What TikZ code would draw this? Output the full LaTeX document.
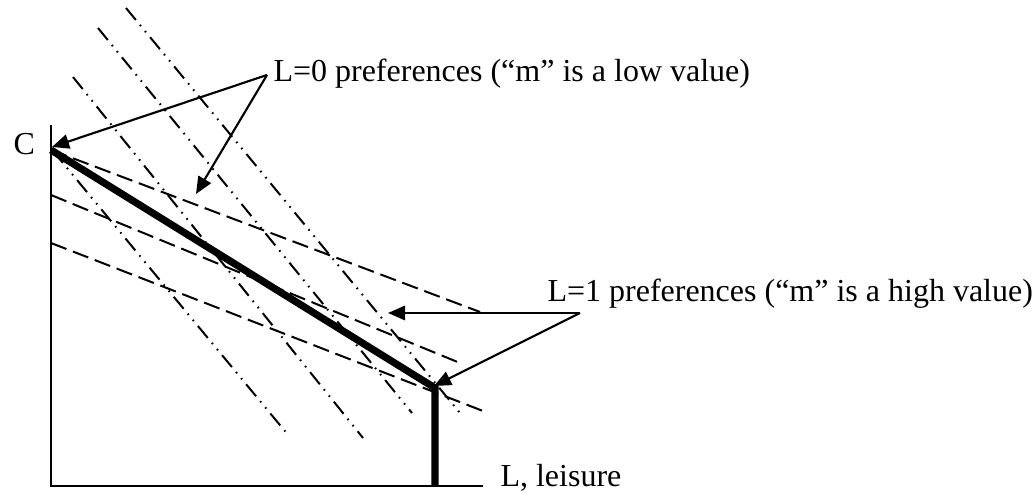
\documentclass[tikz,border=0pt]{standalone}
\usepackage{fontspec}
\setmainfont{Liberation Serif}
\usetikzlibrary{arrows.meta}
\begin{document}
\begin{tikzpicture}[x=0.375pt,y=-0.375pt,
  axis/.style={line width=0.8pt},
  budget/.style={line width=2.7pt, line join=miter},
  lzero/.style={line width=0.75pt, dash pattern=on 5.8pt off 2.4pt on 0.6pt off 2.4pt on 0.6pt off 2.4pt},
  lone/.style={line width=0.75pt, dash pattern=on 6.2pt off 2.6pt},
  callout/.style={line width=0.8pt, -{Triangle[length=6.4pt,width=5.4pt]}},
  lbl/.style={inner sep=0pt, anchor=base west, font=\fontsize{12}{14}\selectfont}]
\useasboundingbox (0,0) rectangle (1036,492);

% axes
\coordinate (ytop) at (51,125);
\coordinate (orig) at (51,486);
\coordinate (xend) at (483,486);
\draw[axis] (ytop) -- (orig) -- (xend);

% labels
\node[lbl] (Clab) at (13,155) {C};
\node[lbl] (Llab) at (500,486) {L, leisure};
\node[lbl] (l0) at (273,82) {L=0 preferences (“m” is a low value)};
\node[lbl] (l1) at (547,302) {L=1 preferences (“m” is a high value)};

% key points
\coordinate (C) at (51,150);
\coordinate (K) at (435,388);
\coordinate (Kb) at (435,486);

% L=1 indifference curves (dashed, flat)
\coordinate (d1a) at (51,150);  \coordinate (d1b) at (480,312);
\coordinate (d2a) at (51,195);  \coordinate (d2b) at (460,363);
\coordinate (d3a) at (51,243);  \coordinate (d3b) at (483,411);
\draw[lone] (d1a) -- (d1b);
\draw[lone] (d2a) -- (d2b);
\draw[lone] (d3a) -- (d3b);

% L=0 indifference curves (dash-dot-dot, steep)
\coordinate (s1a) at (53,151);  \coordinate (s1b) at (289,436);
\coordinate (s2a) at (73,77);   \coordinate (s2b) at (363,438);
\coordinate (s3a) at (98,28);   \coordinate (s3b) at (412,413);
\coordinate (s4a) at (126,8);   \coordinate (s4b) at (460,413);
\draw[lzero] (s1a) -- (s1b);
\draw[lzero] (s2a) -- (s2b);
\draw[lzero] (s3a) -- (s3b);
\draw[lzero] (s4a) -- (s4b);

% budget constraint
\draw[budget] (C) -- (K) -- (Kb);

% callouts
\coordinate (o0) at (267,75);
\coordinate (t0a) at (52,147);
\coordinate (t0b) at (196,194);
\draw[callout] (o0) -- (t0a);
\draw[callout] (o0) -- (t0b);

\coordinate (o1) at (580,313);
\coordinate (t1a) at (388,313);
\coordinate (t1b) at (434,386);
\draw[callout] (o1) -- (t1a);
\draw[callout] (o1) -- (t1b);
\end{tikzpicture}
\end{document}
